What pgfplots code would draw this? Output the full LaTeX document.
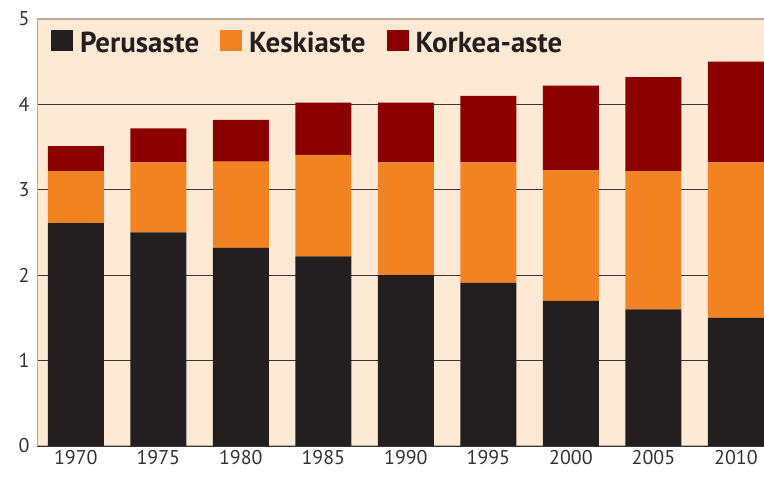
\documentclass[border=0pt]{standalone}
\usepackage{fontspec}
\setmainfont{PT Sans}
\usepackage{pgfplots}
\usepackage{pgfplotstable}
\pgfplotsset{compat=1.18}
\definecolor{bgc}{RGB}{254,234,212}
\definecolor{cblack}{RGB}{35,31,32}
\definecolor{corange}{RGB}{242,131,34}
\definecolor{cred}{RGB}{138,0,0}
\definecolor{ctan}{RGB}{185,170,155}
\definecolor{cgrid}{RGB}{55,55,55}
\definecolor{ctext}{RGB}{50,50,50}
\pgfplotstableread{
x year per kes kor
0 1970 2.61 0.61 0.29
1 1975 2.50 0.82 0.40
2 1980 2.32 1.01 0.49
3 1985 2.22 1.19 0.61
4 1990 2.00 1.32 0.70
5 1995 1.91 1.41 0.78
6 2000 1.70 1.53 0.99
7 2005 1.60 1.62 1.10
8 2010 1.50 1.82 1.18
}\data
\begin{document}
\begin{tikzpicture}
\path[use as bounding box] (0,0) rectangle (764bp,484bp);
\begin{axis}[
  at={(37bp,38bp)}, anchor=south west,
  scale only axis, width=727bp, height=427bp,
  xmin=-0.47, xmax=8.34, ymin=0, ymax=5,
  ybar stacked, bar width=56bp,
  axis background/.style={fill=bgc},
  axis line style={draw=none},
  major tick length=0pt,
  xtick=data, xticklabels={1970,1975,1980,1985,1990,1995,2000,2005,2010},
  ytick={0,1,2,3,4,5},
  ymajorgrids, grid style={cgrid, line width=1.3bp},
  /pgf/number format/assume math mode=true,
  ticklabel style={font=\fontsize{20}{20}\selectfont, text=ctext},
  yticklabel style={xshift=-4bp},
  xticklabel style={yshift=-1bp},
  legend columns=3,
  legend style={draw=none, fill=none, at={(14bp,416bp)}, anchor=north west,
    inner sep=0pt, outer sep=0pt,
    font=\bfseries\fontsize{29}{29}\selectfont, text=cblack,
    /tikz/every even column/.append style={column sep=21bp},
    /tikz/every odd column/.append style={column sep=0bp},
    nodes={inner sep=0pt, outer sep=0pt}},
  legend image code/.code={\fill[#1] (0bp,-8bp) rectangle (22bp,13bp);},
  legend cell align=left,
]
\addplot[fill=cblack, draw=none] table[x=x, y=per] {\data};
\addlegendentry{\hspace{7bp}Perusaste}
\addplot[fill=corange, draw=none] table[x=x, y=kes] {\data};
\addlegendentry{\hspace{7bp}Keskiaste}
\addplot[fill=cred, draw=none] table[x=x, y=kor] {\data};
\addlegendentry{\hspace{7bp}Korkea-aste}
\draw[ctan, line width=1.5bp] (rel axis cs:0,1) -- (rel axis cs:1,1);
\draw[ctan, line width=1.5bp] (rel axis cs:0,1) -- (rel axis cs:0,0) -- (rel axis cs:1,0);
\end{axis}
\end{tikzpicture}
\end{document}
